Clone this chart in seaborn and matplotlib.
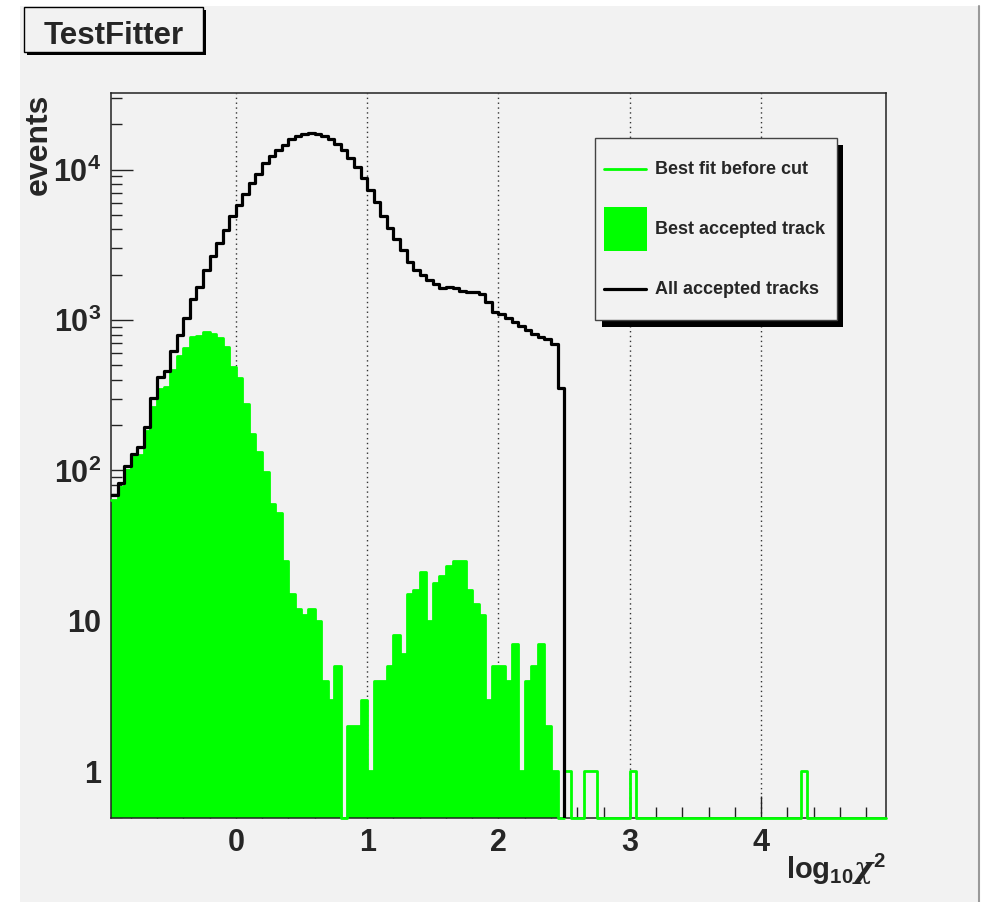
import numpy as np
import pandas as pd
import matplotlib
matplotlib.use("Agg")
import matplotlib.pyplot as plt
import seaborn as sns
from matplotlib.patches import Rectangle
from matplotlib.lines import Line2D
from matplotlib.ticker import FixedLocator, MultipleLocator, LogLocator, FixedFormatter, NullFormatter

# ---------------- data ----------------
x_low = -0.95
x_high = 4.95
n_bins = 118
bin_width = (x_high - x_low) / n_bins

all_accepted = [69, 82, 107, 128, 144, 195, 303, 416, 456, 620,
                800, 1028, 1381, 1667, 2153, 2681, 3243, 3936, 4875, 5770,
                6902, 8130, 9275, 11040, 12220, 13400, 14620, 15860, 16700, 17220,
                17490, 17130, 16580, 15860, 14850, 13400, 11930, 10390, 8770, 7340,
                6080, 4908, 4083, 3466, 2898, 2425, 2164, 1995, 1848, 1730,
                1643, 1668, 1643, 1563, 1531, 1546, 1499, 1326, 1137, 1098,
                1038, 967, 918, 859, 809, 769, 749, 690, 352]

best_accepted = [64, 78, 101, 125, 127, 182, 264, 348, 358, 467,
                 573, 651, 771, 778, 832, 811, 759, 661, 484, 411,
                 277, 175, 132, 97, 60, 52, 25, 15, 12, 11,
                 12, 10, 4, 3, 5, 0, 2, 2, 3, 1,
                 4, 4, 5, 8, 6, 15, 16, 21, 10, 18,
                 20, 23, 25, 25, 16, 13, 11, 3, 5, 5,
                 4, 7, 1, 4, 5, 7, 2, 1, 0]

before_cut_tail_x = [2.525, 2.675, 2.725, 3.025, 4.325]
before_cut_tail_n = [1, 1, 1, 1, 1]

legend_labels = ["Best fit before cut", "Best accepted track", "All accepted tracks"]
x_ticks = [0, 1, 2, 3, 4]
y_ticks = [1, 10, 100, 1000, 10000]
y_tick_labels = ["1", "10", r"$10^{2}$", r"$10^{3}$", r"$10^{4}$"]

YMIN, YMAX = 0.49, 32100

# ---------------- derived ----------------
edges = np.linspace(x_low, x_high, n_bins + 1)
centers = edges[:-1] + bin_width / 2


def pad(v):
    a = np.zeros(n_bins)
    a[:len(v)] = v
    return a


df = pd.DataFrame({"x": centers,
                   "all": pad(all_accepted),
                   "acc": pad(best_accepted)})
cut = df["acc"].to_numpy().copy()
idx = np.floor((np.array(before_cut_tail_x) - x_low) / bin_width).astype(int)
cut[idx] += np.array(before_cut_tail_n)
# ROOT draws empty bins on the frame bottom of a log axis
df["cut_draw"] = np.where(cut > 0, cut, YMIN)

# ---------------- style ----------------
sns.set_style("ticks")
plt.rcParams["font.family"] = ["Liberation Sans", "DejaVu Sans"]
plt.rcParams["font.weight"] = "bold"
plt.rcParams["mathtext.fontset"] = "custom"
plt.rcParams["mathtext.rm"] = "Liberation Sans:bold"
plt.rcParams["mathtext.bf"] = "Liberation Sans:bold"
plt.rcParams["mathtext.it"] = "DejaVu Serif:italic"
plt.rcParams["mathtext.default"] = "bf"

W, H = 984, 902
BG = "#f2f2f2"
GREEN = "#00ff00"

fig = plt.figure(figsize=(W / 100, H / 100), dpi=100)
fig.patch.set_facecolor("white")


def fx(px):
    return px / W


def fy(py):
    return 1 - py / H


# canvas panel
fig.add_artist(Rectangle((fx(20), 0), fx(978) - fx(20), fy(6),
                         transform=fig.transFigure, facecolor=BG, edgecolor="none", zorder=-10))
fig.add_artist(Line2D([fx(979), fx(979)], [0, fy(6)], transform=fig.transFigure,
                      color="#9a9a9a", linewidth=1.5, zorder=-9))

ax = fig.add_axes([fx(111), fy(818), fx(886) - fx(111), fy(93.3) - fy(818)])
ax.set_facecolor(BG)

hist_kws = dict(data=df, x="x", bins=n_bins, binrange=(x_low, x_high),
                element="step", ax=ax, legend=False)
sns.histplot(weights="acc", fill=True, color=GREEN, alpha=1, linewidth=0, zorder=2, **hist_kws)
sns.histplot(weights="cut_draw", fill=False, color=GREEN, linewidth=2.0, zorder=3, **hist_kws)
ax.lines[-1].set_clip_on(False)
sns.histplot(weights="all", fill=False, color="black", linewidth=2.3, zorder=4, **hist_kws)

ax.set_yscale("log")
ax.set_xlim(x_low, x_high)
ax.set_ylim(YMIN, YMAX)

ax.xaxis.set_major_locator(FixedLocator(x_ticks))
ax.xaxis.set_minor_locator(MultipleLocator(0.2))
ax.yaxis.set_major_locator(FixedLocator(y_ticks))
ax.yaxis.set_major_formatter(FixedFormatter(y_tick_labels))
ax.yaxis.set_minor_locator(LogLocator(base=10, subs=np.arange(2, 10)))
ax.yaxis.set_minor_formatter(NullFormatter())

ax.tick_params(which="major", direction="in", length=16, width=1.0, color="#222222",
               labelsize=22, top=False, right=False)
ax.tick_params(which="minor", direction="in", length=8, width=1.0, color="#222222",
               top=False, right=False)
ax.tick_params(axis="x", which="major", pad=7.5)
ax.tick_params(axis="y", which="major", pad=7)
for lab in ax.get_xticklabels() + ax.get_yticklabels():
    lab.set_fontweight("bold")

ax.grid(axis="x", which="major", linestyle=(0, (1, 2.5)), color="#333333", linewidth=1.0)
ax.grid(axis="y", which="both", visible=False)
ax.set_axisbelow(True)
for s in ax.spines.values():
    s.set_color("#222222")
    s.set_linewidth(1.1)
    s.set_visible(True)

ax.set_xlabel(r"$log_{10}\mathit{\chi}^{2}$", fontsize=21, loc="right")
ax.xaxis.set_label_coords(1.0, -0.046)
ax.set_ylabel("events", fontsize=23, fontweight="bold", loc="top")
ax.yaxis.set_label_coords(-0.074, 1.0)

# ---------------- title box ----------------
fig.add_artist(Rectangle((fx(27), fy(54.7)), fx(206.3) - fx(27), fy(9.7) - fy(54.7),
                         transform=fig.transFigure, facecolor="black", edgecolor="none", zorder=5))
fig.add_artist(Rectangle((fx(24), fy(51.7)), fx(203.3) - fx(24), fy(6.7) - fy(51.7),
                         transform=fig.transFigure, facecolor=BG, edgecolor="black",
                         linewidth=1.0, zorder=6))
fig.text(fx(114), fy(44.5), "TestFitter", fontsize=22.5, fontweight="bold",
         ha="center", va="baseline", zorder=7)

# ---------------- legend ----------------
fig.add_artist(Rectangle((fx(602), fy(327.3)), fx(843.3) - fx(602), fy(145) - fy(327.3),
                         transform=fig.transFigure, facecolor="black", edgecolor="none", zorder=5))
fig.add_artist(Rectangle((fx(595), fy(320)), fx(836.7) - fx(595), fy(138.3) - fy(320),
                         transform=fig.transFigure, facecolor=BG, edgecolor="#444444",
                         linewidth=1.0, zorder=6))
fig.add_artist(Line2D([fx(604), fx(646)], [fy(169), fy(169)], transform=fig.transFigure,
                      color=GREEN, linewidth=2.0, zorder=7))
fig.add_artist(Rectangle((fx(603.5), fy(250.7)), fx(646.5) - fx(603.5), fy(207.3) - fy(250.7),
                         transform=fig.transFigure, facecolor=GREEN, edgecolor="none", zorder=7))
fig.add_artist(Line2D([fx(604), fx(646)], [fy(289.3), fy(289.3)], transform=fig.transFigure,
                      color="black", linewidth=2.3, zorder=7))
for lab, yy in zip(legend_labels, [169, 229, 289.3]):
    fig.text(fx(655), fy(yy), lab, fontsize=13, fontweight="bold", ha="left", va="center", zorder=8)

fig.savefig("out.png", dpi=100, facecolor=fig.get_facecolor())
